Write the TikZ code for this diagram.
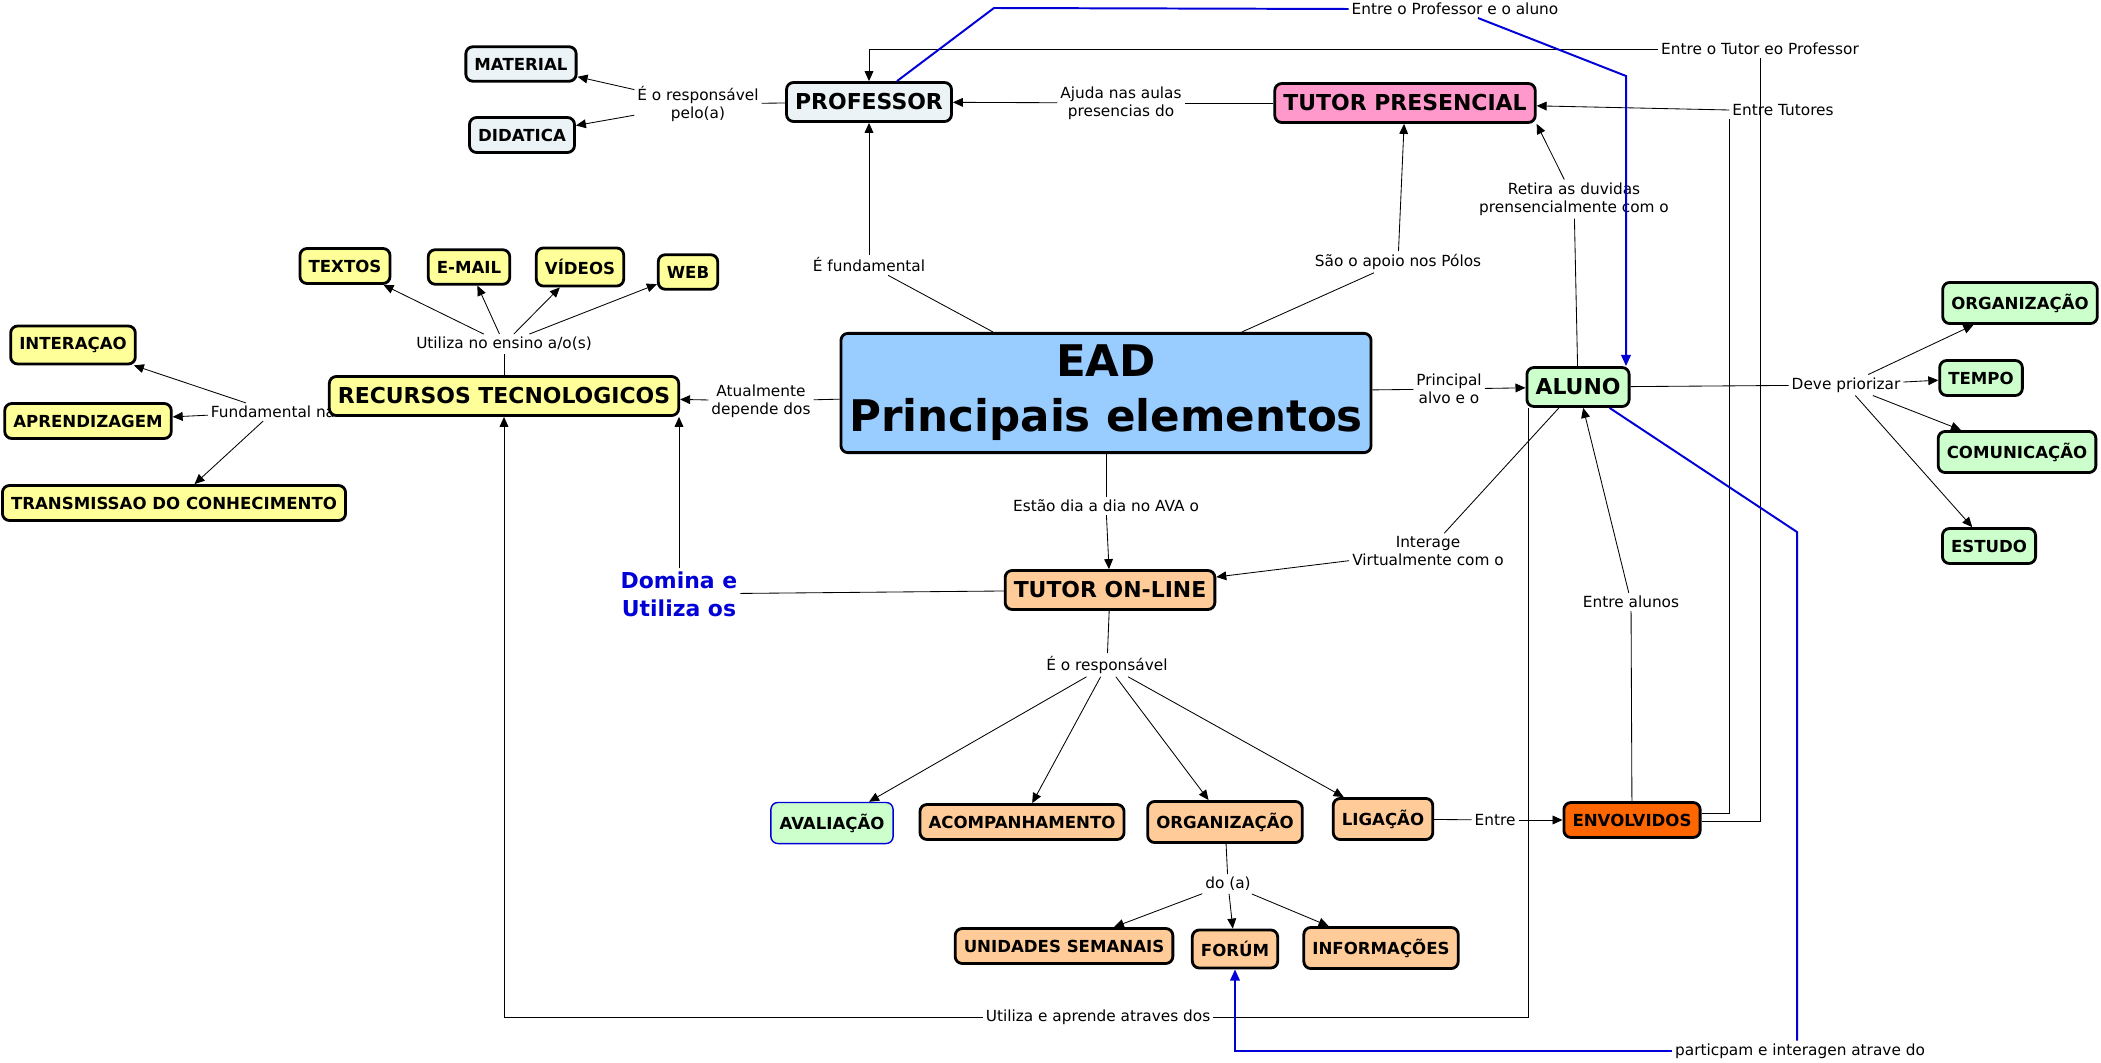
\documentclass[tikz,border=0pt]{standalone}
\usepackage{fontspec}
\setmainfont{DejaVu Sans}
\usetikzlibrary{arrows.meta,calc}

\definecolor{profcol}{RGB}{235,243,246}
\definecolor{eadcol}{RGB}{153,204,255}
\definecolor{pinkcol}{RGB}{255,153,204}
\definecolor{greencol}{RGB}{204,255,204}
\definecolor{yellowcol}{RGB}{255,255,153}
\definecolor{peachcol}{RGB}{255,204,153}
\definecolor{orangecol}{RGB}{255,102,0}
\definecolor{linkblue}{RGB}{0,0,215}

\newcommand{\conceptfont}{\fontsize{11.8}{14}\selectfont\bfseries}
\newcommand{\bigconceptfont}{\fontsize{15.6}{18}\selectfont\bfseries}
\newcommand{\eadfont}{\fontsize{31}{39}\selectfont\bfseries}
\newcommand{\linkfont}{\fontsize{10.9}{12.8}\selectfont}
\newcommand{\dominafont}{\fontsize{15.6}{19.9}\selectfont\bfseries}

\tikzset{
  concept/.style={draw, line width=2pt, rounded corners=5pt, inner xsep=0.215cm, inner ysep=0.28cm, font=\conceptfont},
  bigconcept/.style={concept, font=\bigconceptfont},
  mainbox/.style={draw, line width=2pt, rounded corners=5pt, fill=eadcol, align=center, font=\eadfont, minimum width=13.25cm, minimum height=2.98cm, inner sep=0pt},
  linkph/.style={inner sep=2pt, align=center, font=\linkfont},
  bluelink/.style={inner sep=2pt, align=center, font=\dominafont, text=linkblue},
  conn/.style={line width=0.6pt},
  arr/.style={conn, -{Triangle[length=0.25cm,width=0.22cm]}},
  blueconn/.style={draw=linkblue, line width=1.4pt},
  bluearr/.style={blueconn, -{Triangle[length=0.28cm,width=0.24cm]}},
}

\begin{document}
\begin{tikzpicture}[x=0.025cm, y=-0.025cm]
\useasboundingbox (0,0) rectangle (2101,1063);

\node[concept, fill=profcol] (material) at (521,64) {MATERIAL};
\node[concept, fill=profcol] (didatica) at (522,135) {DIDATICA};
\node[bigconcept, fill=profcol] (prof) at (869,102) {PROFESSOR};
\node[bigconcept, fill=pinkcol] (tutpres) at (1405,103) {TUTOR PRESENCIAL};
\node[concept, fill=yellowcol] (textos) at (345,266) {TEXTOS};
\node[concept, fill=yellowcol] (email) at (469,267) {E-MAIL};
\node[concept, fill=yellowcol] (videos) at (580,267) {VÍDEOS};
\node[concept, fill=yellowcol] (web) at (688,272) {WEB};
\node[concept, fill=yellowcol] (interacao) at (73,345) {INTERAÇAO};
\node[concept, fill=yellowcol] (aprend) at (88,421) {APRENDIZAGEM};
\node[concept, fill=yellowcol] (transm) at (174,503) {TRANSMISSAO DO CONHECIMENTO};
\node[linkph] (lkFundNa) at (273,412) {Fundamental na};
\node[bigconcept, fill=yellowcol] (recursos) at (504,396) {RECURSOS TECNOLOGICOS};
\node[mainbox] (ead) at (1106,393) {EAD\\Principais elementos};
\node[bigconcept, fill=greencol] (aluno) at (1578,387) {ALUNO};
\node[concept, fill=greencol] (orgA) at (2020,303) {ORGANIZAÇÃO};
\node[concept, fill=greencol] (tempo) at (1981,378) {TEMPO};
\node[concept, fill=greencol] (comun) at (2017,452) {COMUNICAÇÃO};
\node[concept, fill=greencol] (estudo) at (1989,546) {ESTUDO};
\node[bigconcept, fill=peachcol] (tutonl) at (1110,590) {TUTOR ON-LINE};
\node[concept, fill=greencol, draw=linkblue, line width=1pt] (avaliacao) at (832,823) {AVALIAÇÃO};
\node[concept, fill=peachcol] (acomp) at (1022,822) {ACOMPANHAMENTO};
\node[concept, fill=peachcol] (orgB) at (1225,822) {ORGANIZAÇÃO};
\node[concept, fill=peachcol] (ligacao) at (1383,819) {LIGAÇÃO};
\node[concept, fill=peachcol] (unidades) at (1064,946) {UNIDADES SEMANAIS};
\node[concept, fill=peachcol] (forum) at (1235,949) {FORÚM};
\node[concept, fill=peachcol] (inform) at (1381,948) {INFORMAÇÕES};
\node[concept, fill=orangecol] (envolv) at (1632,820) {ENVOLVIDOS};

\node[linkph] (lkRespA) at (698,104) {É o responsável\\pelo(a)};
\node[linkph] (lkAjuda) at (1121,103) {Ajuda nas aulas\\presencias do};
\node[linkph] (lkProfAl) at (1455,9) {Entre o Professor e o aluno};
\node[linkph] (lkTutProf) at (1760,49) {Entre o Tutor eo Professor};
\node[linkph] (lkTut) at (1783,110) {Entre Tutores};
\node[linkph] (lkRetira) at (1574,199) {Retira as duvidas\\prensencialmente com o};
\node[linkph] (lkApoio) at (1398,262) {São o apoio nos Pólos};
\node[linkph] (lkFundam) at (869,265) {É fundamental};
\node[linkph] (lkEnsino) at (504,344) {Utiliza no ensino a/o(s)};
\node[linkph] (lkAtual) at (761,401) {Atualmente\\depende dos};
\node[linkph] (lkPrinc) at (1449,389) {Principal\\alvo e o};
\node[linkph] (lkDeve) at (1846,385) {Deve priorizar};
\node[linkph] (lkInter) at (1428,551) {Interage\\Virtualmente com o};
\node[linkph] (lkEntreAl) at (1631,602) {Entre alunos};
\node[linkph] (lkEstao) at (1106,506) {Estão dia a dia no AVA o};
\node[linkph] (lkRespB) at (1107,665) {É o responsável};
\node[linkph] (lkDo) at (1228,884) {do (a)};
\node[linkph] (lkEntre) at (1495,820) {Entre};
\node[linkph] (lkUtil) at (1098,1017) {Utiliza e aprende atraves dos};
\node[linkph] (lkPart) at (1800,1051) {particpam e interagen atrave do};
\node[bluelink] (lkDom) at (679,594) {Domina e\\Utiliza os};

\coordinate (bendA) at (994,8);
\coordinate (bendB) at (1626,76);
\coordinate (bendC) at (1797,532);

\draw[conn] (prof) -- (lkRespA);
\draw[arr] (lkRespA) -- (material);
\draw[arr] (lkRespA) -- (didatica);
\draw[conn] (tutpres) -- (lkAjuda);
\draw[arr] (lkAjuda) -- (prof);
\draw[conn] (ead) -- (lkFundam);
\draw[arr] (lkFundam) -- (prof);
\draw[conn] (ead) -- (lkApoio);
\draw[arr] (lkApoio) -- (tutpres);
\draw[conn] (ead) -- (lkAtual);
\draw[arr] (lkAtual) -- (recursos);
\draw[conn] (ead) -- (lkPrinc);
\draw[arr] (lkPrinc) -- (aluno);
\draw[conn] (ead) -- (lkEstao);
\draw[arr] (lkEstao) -- (tutonl);
\draw[conn] (recursos) -- (lkEnsino);
\draw[arr] (lkEnsino) -- (textos);
\draw[arr] (lkEnsino) -- (email);
\draw[arr] (lkEnsino) -- (videos);
\draw[arr] (lkEnsino) -- (web);
\draw[arr] (lkFundNa) -- (interacao);
\draw[arr] (lkFundNa) -- (aprend);
\draw[arr] (lkFundNa) -- (transm);
\draw[conn] (tutonl) -- (lkDom);
\draw[arr] (lkDom.north) -- (lkDom.north |- recursos.south);
\draw[conn] (aluno) -- (lkRetira);
\draw[arr] (lkRetira) -- (tutpres.south east);
\draw[conn] (aluno) -- (lkInter);
\draw[arr] (lkInter) -- (tutonl);
\draw[conn] (aluno) -- (lkDeve);
\draw[arr] (lkDeve) -- (orgA);
\draw[arr] (lkDeve) -- (tempo);
\draw[arr] (lkDeve) -- (comun);
\draw[arr] (lkDeve) -- (estudo);
\draw[conn] (tutonl) -- (lkRespB);
\draw[arr] (lkRespB) -- (avaliacao);
\draw[arr] (lkRespB) -- (acomp);
\draw[arr] (lkRespB) -- (orgB);
\draw[arr] (lkRespB) -- (ligacao);
\draw[conn] (orgB) -- (lkDo);
\draw[arr] (lkDo) -- (unidades);
\draw[arr] (lkDo) -- (forum);
\draw[arr] (lkDo) -- (inform);
\draw[conn] (ligacao) -- (lkEntre);
\draw[arr] (lkEntre) -- (envolv);
\draw[conn] (envolv) -- (lkEntreAl);
\draw[arr] (lkEntreAl) -- (aluno);
\draw[conn] ([yshift=0.17cm]envolv.east) -| (lkTut.south west);
\draw[arr] (lkTut.west) -- (tutpres);
\draw[conn] ([yshift=-0.03cm]envolv.east) -| (lkTutProf.south);
\draw[arr] (lkTutProf.west) -| (prof.north);
\draw[conn] ($(aluno.south west)+(3,0)$) |- (lkUtil.east);
\draw[arr] (lkUtil.west) -| (recursos.south);
\draw[blueconn] ($(prof.north)+(28,0)$) -- (bendA) -- (lkProfAl.west);
\draw[bluearr] (lkProfAl) -- (bendB) -- (bendB |- aluno.north);
\draw[blueconn] (aluno) -- (bendC) -- (bendC |- lkPart.north);
\draw[bluearr] (lkPart.west) -| (forum.south);
\end{tikzpicture}
\end{document}
